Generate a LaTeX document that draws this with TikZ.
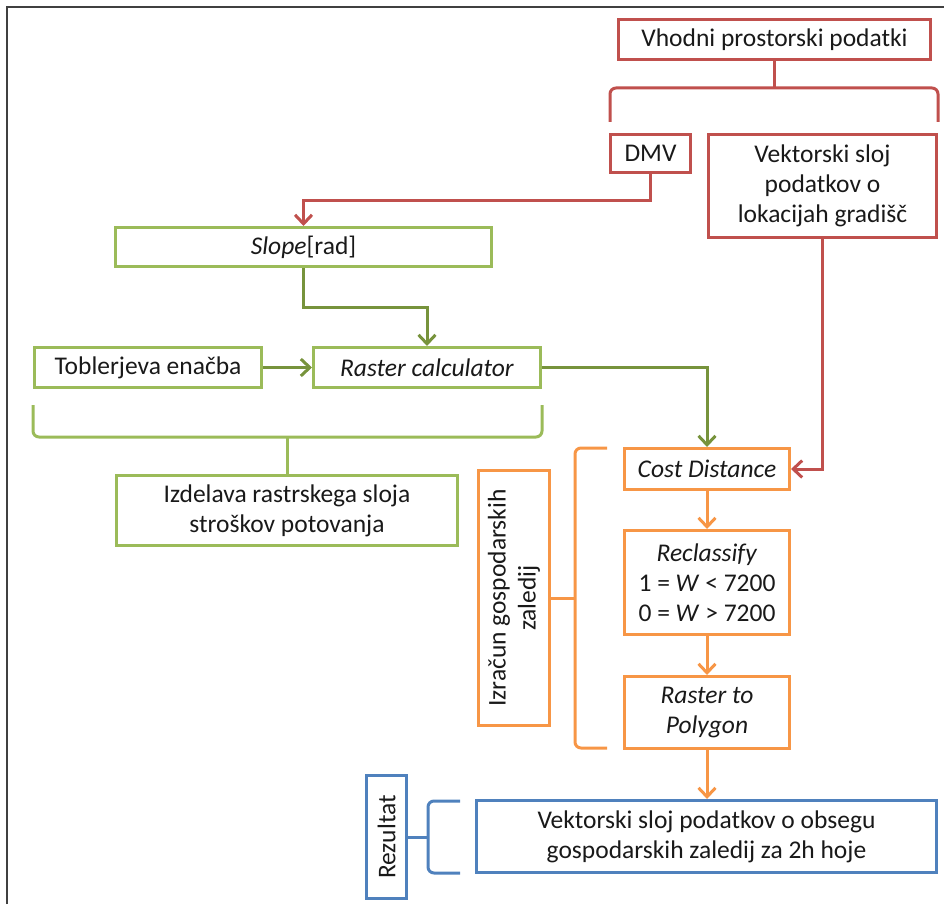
\documentclass[tikz,border=0pt]{standalone}
\usepackage{fontspec}
\setmainfont{Carlito}
\usetikzlibrary{arrows.meta}
\definecolor{cred}{HTML}{C0504D}
\definecolor{cgreen}{HTML}{9BBB59}
\definecolor{cdgreen}{HTML}{77933C}
\definecolor{corange}{HTML}{F79646}
\definecolor{cblue}{HTML}{4F81BD}
\tikzset{
  box/.style={draw, line width=3pt, inner sep=0pt, align=center, font=\fontsize{25.5}{30}\selectfont, text=black!90},
  redbox/.style={box, draw=cred},
  greenbox/.style={box, draw=cgreen},
  orangebox/.style={box, draw=corange},
  bluebox/.style={box, draw=cblue},
  conn/.style={line width=3pt, -{Straight Barb[length=9pt,width=17pt]}},
  brace/.style={line width=3pt, rounded corners=6pt},
  frameline/.style={line width=2pt, draw=black!75}
}
\begin{document}
\begin{tikzpicture}[x=1pt,y=-1pt]
\useasboundingbox (0,0) rectangle (944,904);
\draw[frameline] (7,904) -- (7,7) -- (944,7);

% red
\node[redbox, minimum width=312, minimum height=40] (vhod) at (774.5,39.5) {Vhodni prostorski podatki};
\node[redbox, minimum width=80, minimum height=38] (dmv) at (650.5,153.5) {DMV};
\node[redbox, minimum width=228, minimum height=103] (vek) at (822.5,186) {Vektorski sloj\\podatkov o\\lokacijah gradišč};

% green
\node[greenbox, minimum width=376, minimum height=39] (slope) at (303.5,247) {\textit{Slope}[rad]};
\node[greenbox, minimum width=227, minimum height=40] (tob) at (148,367.5) {Toblerjeva enačba};
\node[greenbox, minimum width=227, minimum height=40] (rc) at (427,367.5) {\textit{Raster calculator}};
\node[greenbox, minimum width=341, minimum height=70] (izd) at (287,510.5) {Izdelava rastrskega sloja\\stroškov potovanja};

% orange
\node[orangebox, minimum width=165, minimum height=41] (cd) at (707,469) {\textit{Cost Distance}};
\node[orangebox, minimum width=165, minimum height=104] (recl) at (707,582.5) {\textit{Reclassify}\\1 = \textit{W} < 7200\\0 = \textit{W} > 7200};
\node[orangebox, minimum width=165, minimum height=72] (rtp) at (707,712.5) {\textit{Raster to}\\\textit{Polygon}};
\node[orangebox, rotate=90, minimum width=255, minimum height=71] (izr) at (514,598) {Izračun gospodarskih\\zaledij};

% blue
\node[bluebox, minimum width=460, minimum height=72] (res) at (706.5,836.5) {Vektorski sloj podatkov o obsegu\\gospodarskih zaledij za 2h hoje};
\node[bluebox, rotate=90, minimum width=123, minimum height=40] (rez) at (386.5,837) {Rezultat};

% red connectors
\draw[line width=3pt, cred] (vhod.south) -- (vhod.south |- 0,88);
\draw[brace, cred] (610,122) -- (610,88) -- (938,88) -- (938,122);
\draw[conn, cred] (dmv.south) -- (dmv.south |- 0,200) -| (slope.north);
\draw[conn, cred] (vek.south) |- (cd.east);

% green connectors
\draw[conn, cdgreen] (slope.south) -- (slope.south |- 0,307) -| (rc.north);
\draw[conn, cdgreen] (tob.east) -- (rc.west);
\draw[conn, cdgreen] (rc.east) -| (cd.north);
\draw[brace, cgreen] (33,405) -- (33,437) -- (542,437) -- (542,405);
\draw[line width=3pt, cgreen] (izd.north |- 0,437) -- (izd.north);

% orange connectors
\draw[conn, corange] (cd.south) -- (recl.north);
\draw[conn, corange] (recl.south) -- (rtp.north);
\draw[conn, corange] (rtp.south) -- (res.north -| rtp.south);
\draw[brace, corange] (607,448) -- (575,448) -- (575,748) -- (607,748);
\draw[line width=3pt, corange] (izr.south) -- (izr.south -| 575,0);

% blue connectors
\draw[brace, cblue] (460,801) -- (428,801) -- (428,873) -- (460,873);
\draw[line width=3pt, cblue] (rez.south) -- (rez.south -| 428,0);
\end{tikzpicture}
\end{document}
